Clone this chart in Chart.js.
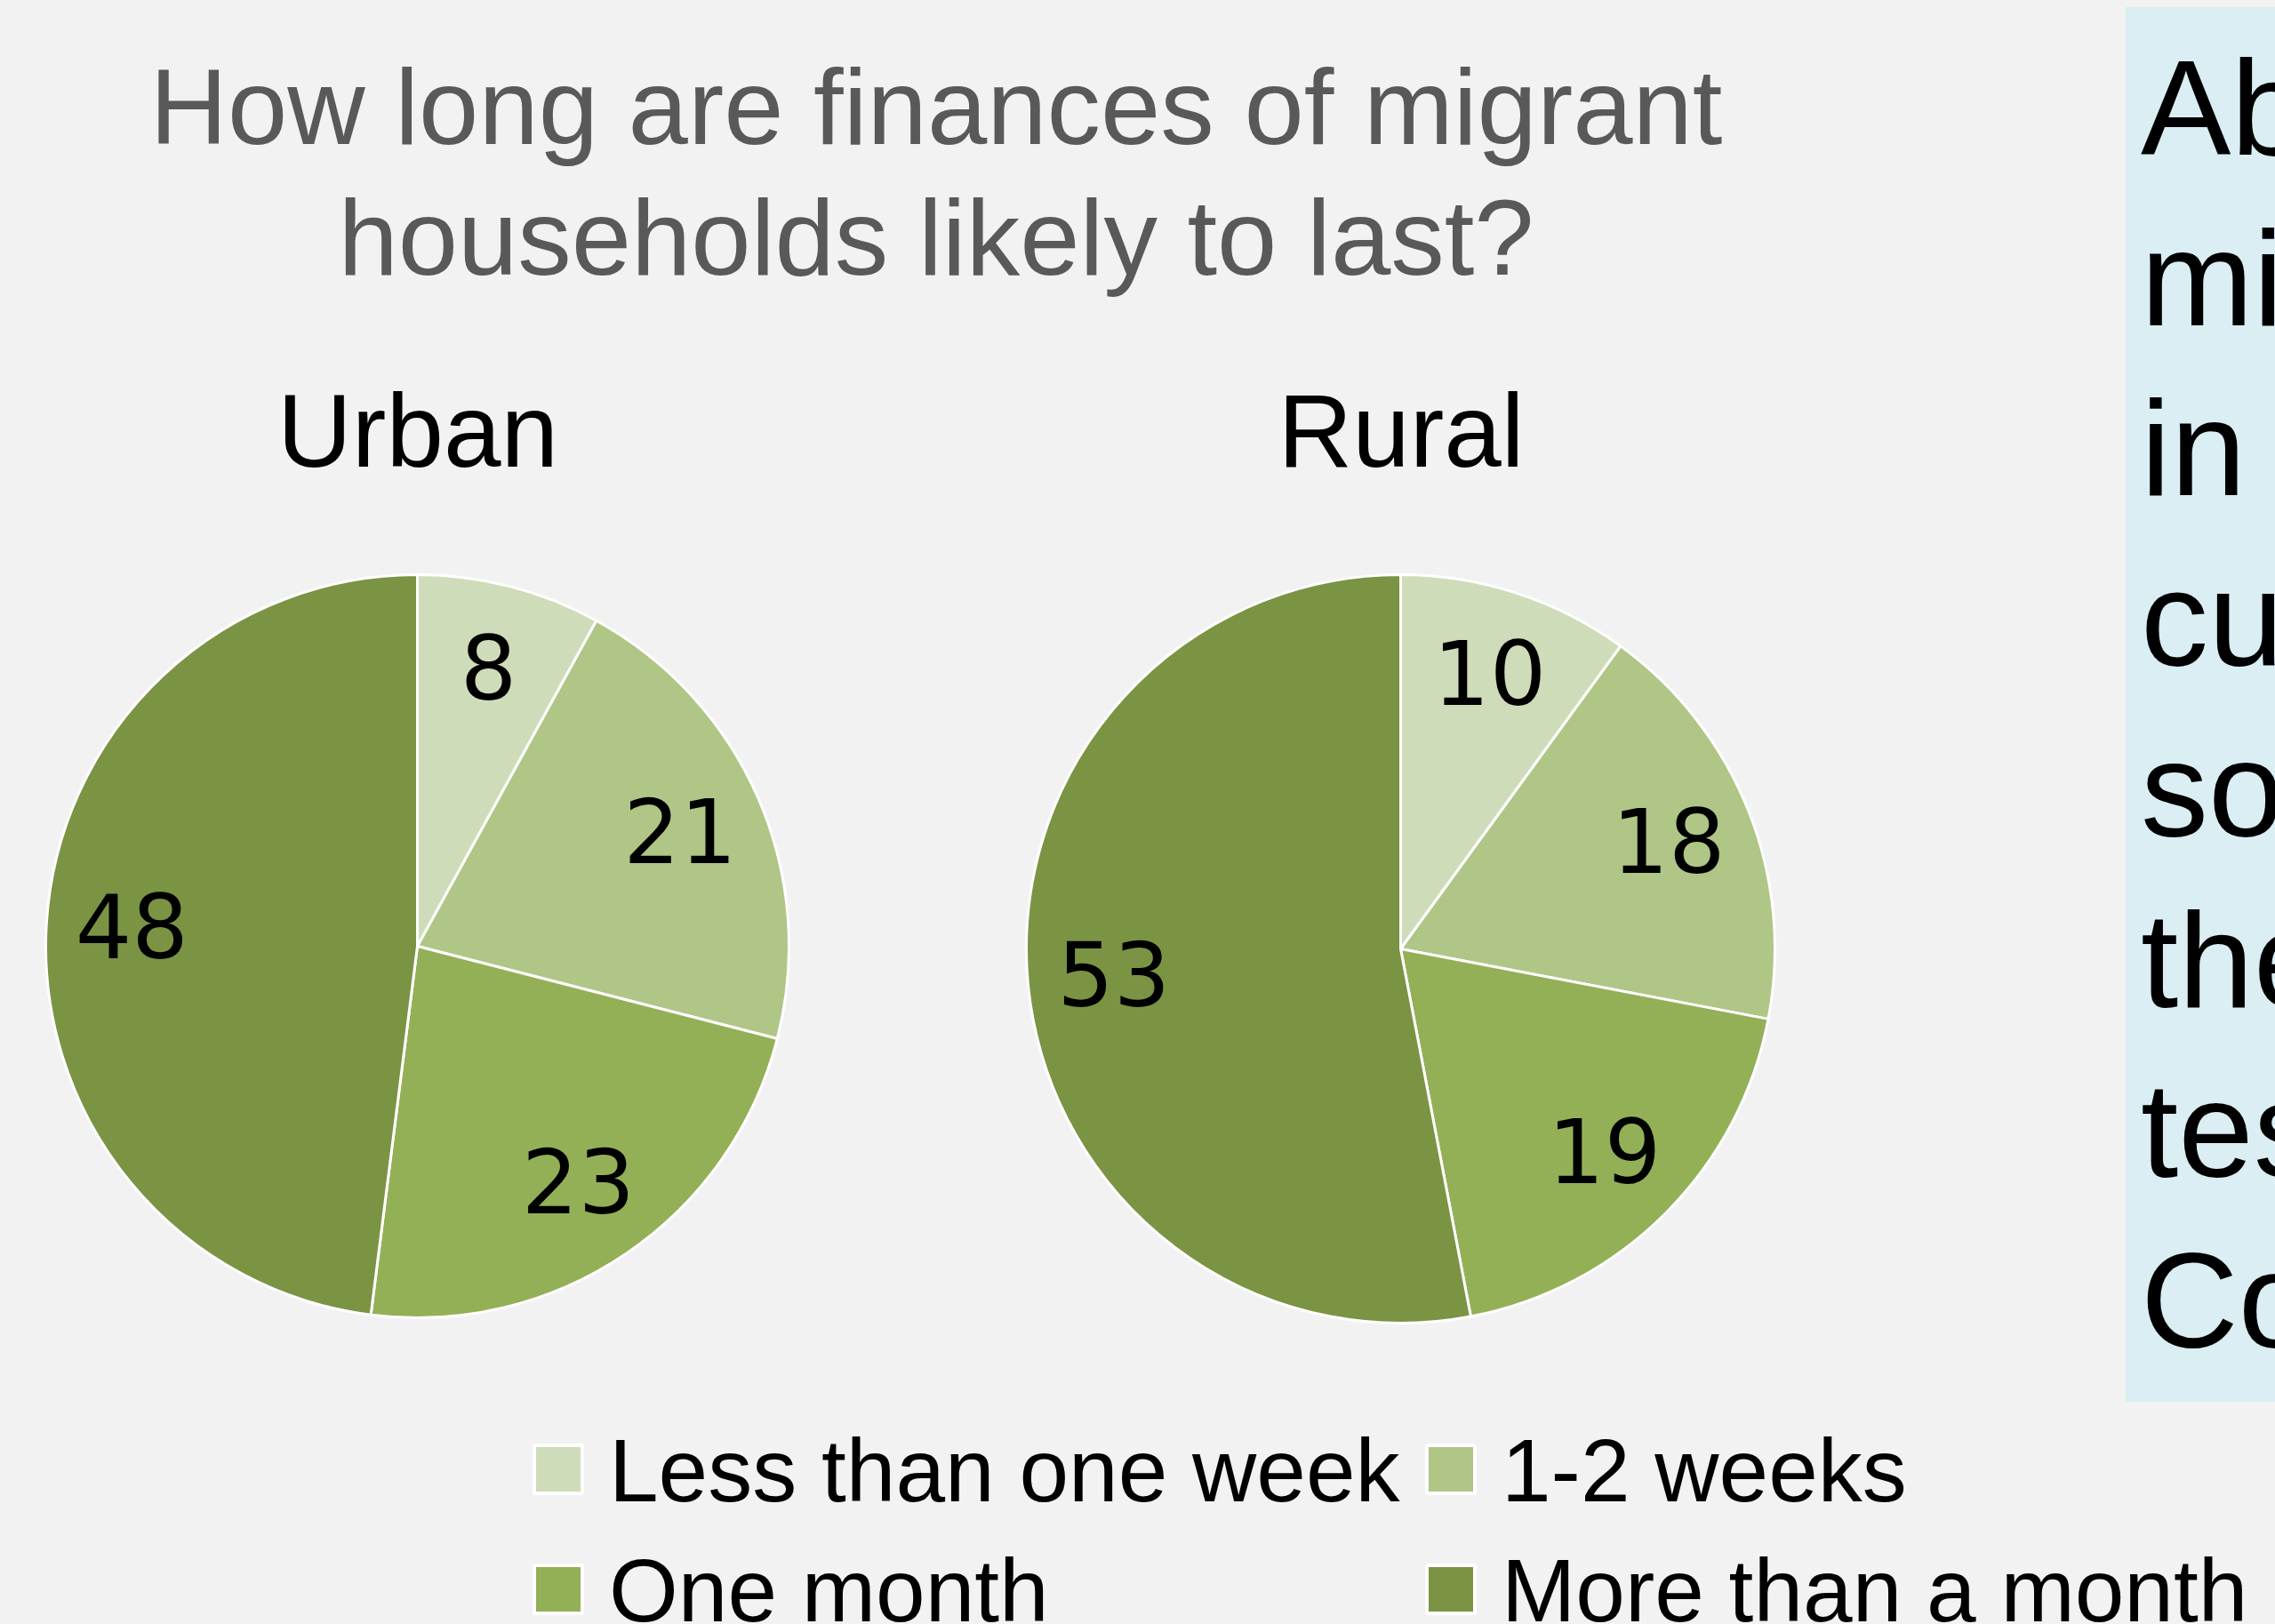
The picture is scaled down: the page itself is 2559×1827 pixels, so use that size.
<!DOCTYPE html>
<html>
<head>
<meta charset="utf-8">
<script src="https://cdn.jsdelivr.net/npm/chart.js@4.4.1/dist/chart.umd.min.js"></script>
<style>
  html, body { margin: 0; padding: 0; background: #f2f2f2; overflow: hidden; }
  #page { position: relative; width: 2559px; height: 1827px; background: #f2f2f2; overflow: hidden;
          font-family: "Liberation Sans", Arial, sans-serif; }
  .abs { position: absolute; white-space: nowrap; }
  #title { left: 0; width: 2106px; top: 47px; text-align: center; font-size: 121px; line-height: 147px; color: #595959; }
  .sub { font-size: 116px; line-height: 116px; color: #000; text-align: center; width: 600px; top: 427px; }
  .pie { position: absolute; }
  #legend .item { position: absolute; font-size: 100px; line-height: 100px; color: #000; white-space: nowrap; }
  #legend .sw { position: absolute; width: 50px; height: 50px; border: 4px solid #fff; border-radius: 3px; }
  #note { left: 2391px; top: 8px; width: 900px; height: 1569px; background: #daeef3; box-sizing: border-box;
          padding: 18px 0 0 17px; font-size: 152px; line-height: 191.7px; color: #000; overflow: hidden; }
</style>
</head>
<body>
<div id="page">
  <div id="title" class="abs">How long are finances of migrant<br>households likely to last?</div>
  <div class="abs sub" style="left:170px">Urban</div>
  <div class="abs sub" style="left:1276px">Rural</div>
  <canvas id="urbanChart" class="pie" width="839" height="839" style="left:50px;top:645px"></canvas>
  <canvas id="ruralChart" class="pie" width="845" height="845" style="left:1153px;top:645px"></canvas>
  <div id="legend"></div>
  <div id="note" class="abs">About 40% of urban<br>migrant households<br>in the survey are<br>currently living on<br>some savings that<br>they fear will not<br>test out the long<br>Covid-19 lockdown</div>
</div>
<script>
const categories = ['Less than one week', '1-2 weeks', 'One month', 'More than a month'];
const urbanValues = [8, 21, 23, 48];
const ruralValues = [10, 18, 19, 53];
const sliceColors = ['#cfdcb9', '#afc686', '#93b057', '#7a9444'];

// Zahlen in die Segmente schreiben (wie Excel-Datenbeschriftungen)
const sliceLabels = {
  id: 'sliceLabels',
  afterDatasetsDraw(chart) {
    const ctx = chart.ctx;
    const meta = chart.getDatasetMeta(0);
    const values = chart.data.datasets[0].data;
    ctx.save();
    ctx.font = '100px "DejaVu Sans", sans-serif';
    ctx.fillStyle = '#000';
    ctx.textAlign = 'center';
    ctx.textBaseline = 'middle';
    meta.data.forEach((arc, i) => {
      const { x, y, startAngle, endAngle, outerRadius } = arc.getProps(['x', 'y', 'startAngle', 'endAngle', 'outerRadius'], true);
      const mid = (startAngle + endAngle) / 2;
      const r = outerRadius * 0.77;
      ctx.fillText(String(values[i]), x + Math.cos(mid) * r, y + Math.sin(mid) * r + 8);
    });
    ctx.restore();
  }
};

function makePie(id, values) {
  const ctx = document.getElementById(id).getContext('2d');
  return new Chart(ctx, {
    type: 'pie',
    data: {
      labels: categories,
      datasets: [{
        data: values,
        backgroundColor: sliceColors,
        borderColor: '#ffffff',
        borderWidth: 3,
      }]
    },
    options: {
      responsive: false,
      maintainAspectRatio: false,
      animation: false,
      layout: { padding: 0 },
      plugins: {
        legend: { display: false },
        tooltip: { enabled: false },
      }
    },
    plugins: [sliceLabels]
  });
}

makePie('urbanChart', urbanValues);
makePie('ruralChart', ruralValues);

// Legende: zwei Spalten, zwei Zeilen
const legend = document.getElementById('legend');
const colX = [599, 1603];
const rowTop = [1604, 1739];
categories.forEach((name, i) => {
  const col = i % 2;
  const row = Math.floor(i / 2);
  const sw = document.createElement('div');
  sw.className = 'sw';
  sw.style.background = sliceColors[i];
  sw.style.left = colX[col] + 'px';
  sw.style.top = (rowTop[row] + 49 - 29) + 'px';
  legend.appendChild(sw);
  const item = document.createElement('div');
  item.className = 'item';
  item.textContent = name;
  item.style.left = (colX[col] + 86) + 'px';
  item.style.top = rowTop[row] + 'px';
  legend.appendChild(item);
});
</script>
</body>
</html>
